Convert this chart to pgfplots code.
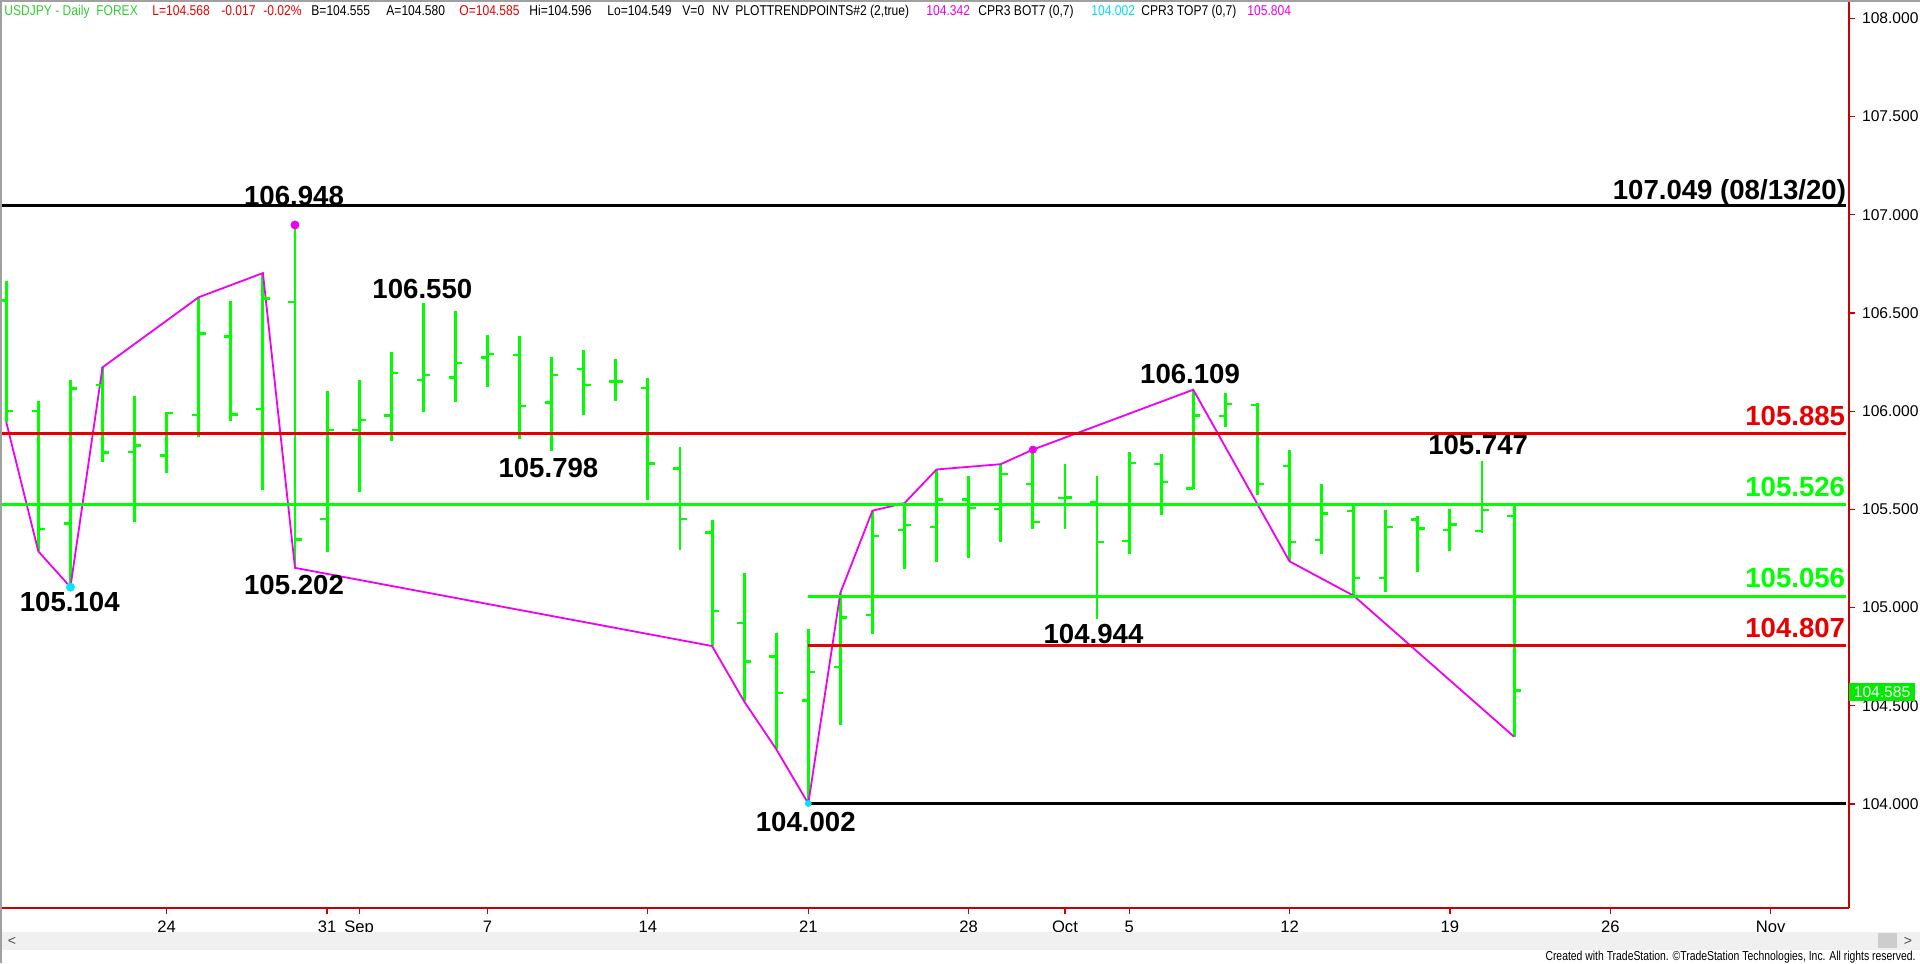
\documentclass[border=0pt]{standalone}
\usepackage{fontspec}
\setmainfont{Liberation Sans}
\usepackage{graphicx}
\usepackage{pgfplots}
\usepackage{pgfplotstable}
\pgfplotsset{compat=1.18}

\definecolor{tsgreen}{RGB}{0,255,0}
\definecolor{tsred}{RGB}{232,0,0}
\definecolor{tsaxis}{RGB}{205,0,0}
\definecolor{tsmag}{RGB}{240,0,240}
\definecolor{tscyan}{RGB}{0,230,255}
\definecolor{hdgreen}{RGB}{50,205,50}
\definecolor{hdred}{RGB}{230,0,0}
\definecolor{hdmag}{RGB}{230,0,230}
\definecolor{hdcyan}{RGB}{0,220,240}
\definecolor{tsgray}{RGB}{240,240,240}
\definecolor{tsthumb}{RGB}{205,205,205}
\definecolor{tsborder}{RGB}{160,160,160}

\pgfdeclareplotmark{otick}{\pgfpathmoveto{\pgfqpoint{-3.4pt}{0pt}}\pgfpathlineto{\pgfqpoint{0pt}{0pt}}\pgfusepathqstroke}
\pgfdeclareplotmark{ctick}{\pgfpathmoveto{\pgfqpoint{0pt}{0pt}}\pgfpathlineto{\pgfqpoint{3.4pt}{0pt}}\pgfusepathqstroke}

% trading-day index i: 0 = Aug 17, 2020
\pgfplotstableread{
i o h l c
0 106.563 106.661 105.944 106.000
1 106.000 106.054 105.286 105.399
2 105.428 106.158 105.104 106.116
3 106.133 106.223 105.742 105.789
4 105.792 106.076 105.438 105.826
5 105.774 105.998 105.686 105.991
6 105.981 106.580 105.868 106.396
7 106.381 106.563 105.948 105.983
8 106.012 106.703 105.598 106.573
9 106.556 106.948 105.202 105.346
10 105.450 106.101 105.281 105.905
11 105.905 106.158 105.590 105.956
12 105.978 106.303 105.846 106.194
13 106.158 106.550 105.995 106.184
14 106.172 106.511 106.049 106.245
15 106.273 106.390 106.123 106.290
16 106.285 106.383 105.860 106.025
17 106.045 106.278 105.798 106.184
18 106.214 106.309 105.978 106.133
19 106.150 106.265 106.054 106.150
20 106.118 106.167 105.545 105.733
21 105.708 105.818 105.295 105.450
22 105.382 105.444 104.804 104.982
23 104.920 105.176 104.522 104.726
24 104.751 104.872 104.279 104.565
25 104.526 104.889 104.002 104.672
26 104.697 105.075 104.400 104.949
27 104.963 105.493 104.866 105.363
28 105.396 105.532 105.196 105.421
29 105.409 105.703 105.231 105.551
30 105.551 105.671 105.254 105.506
31 105.503 105.730 105.336 105.681
32 105.629 105.804 105.400 105.435
33 105.557 105.732 105.400 105.561
34 105.537 105.670 104.944 105.334
35 105.338 105.794 105.275 105.735
36 105.730 105.784 105.470 105.638
37 105.607 106.109 105.603 105.978
38 105.974 106.090 105.918 106.036
39 106.031 106.040 105.574 105.629
40 105.722 105.800 105.235 105.334
41 105.343 105.629 105.273 105.479
42 105.493 105.516 105.060 105.149
43 105.149 105.497 105.079 105.411
44 105.448 105.464 105.182 105.402
45 105.394 105.504 105.289 105.423
46 105.391 105.747 105.382 105.497
47 105.465 105.521 104.342 104.578
}\ohlc

\pgfplotstableread{
i v
0 105.944
1 105.286
2 105.104
3 106.223
6 106.580
8 106.703
9 105.202
22 104.804
23 104.522
24 104.279
25 104.002
26 105.075
27 105.493
28 105.532
29 105.703
31 105.730
32 105.804
37 106.109
40 105.235
42 105.060
47 104.342
}\zigzag

\begin{document}
\begin{tikzpicture}
\path[use as bounding box] (0pt,0pt) rectangle (960pt,-481.5pt);
\fill[white] (0pt,0pt) rectangle (960pt,-481.5pt);
\begin{axis}[
  at={(0pt,0pt)}, anchor=north west,
  scale only axis, width=924.5pt, height=454pt,
  xmin=-0.195, xmax=57.44, ymin=103.47, ymax=108.0935,
  axis x line*=bottom, axis y line*=right,
  axis line style={tsaxis, line width=0.6pt, -},
  tick align=outside, major tick length=3pt,
  tick style={tsaxis, line width=0.6pt},
  xtick={5,10,11,15,20,25,30,33,35,40,45,50,55},
  xticklabels={24,31,Sep,7,14,21,28,Oct,5,12,19,26,Nov},
  ytick={104,104.5,105,105.5,106,106.5,107,107.5,108},
  yticklabels={104.000,104.500,105.000,105.500,106.000,106.500,107.000,107.500,108.000},
  xticklabel style={font=\fontsize{8.3}{9}\selectfont, text=black},
  yticklabel style={font=\fontsize{7.8}{9}\selectfont, text=black},
  clip=false,
]
% high-low
\addplot[draw=none, mark=none, forget plot,
  error bars/.cd, y dir=minus, y explicit, error mark=none,
  error bar style={tsgreen, line width=1.45pt}]
  table[x=i, y=h, y error minus expr=\thisrow{h}-\thisrow{l}] {\ohlc};
% open / close ticks
\addplot[only marks, mark=otick, mark options={tsgreen, line width=1.2pt}] table[x=i, y=o] {\ohlc};
\addplot[only marks, mark=ctick, mark options={tsgreen, line width=1.2pt}] table[x=i, y=c] {\ohlc};
% zigzag trend points
\addplot[tsmag, line width=0.9pt] table[x=i, y=v] {\zigzag};
% levels
\addplot[black, line width=1.5pt] coordinates {(-0.195,107.049) (57.36,107.049)};
\addplot[tsred, line width=1.6pt] coordinates {(-0.195,105.885) (57.36,105.885)};
\addplot[tsgreen, line width=1.6pt] coordinates {(-0.195,105.526) (57.36,105.526)};
\addplot[tsgreen, line width=1.6pt] coordinates {(25,105.056) (57.36,105.056)};
\addplot[tsred, line width=1.6pt] coordinates {(25,104.807) (57.36,104.807)};
\addplot[black, line width=1.5pt] coordinates {(25,104.002) (57.36,104.002)};
% swing dots
\addplot[only marks, mark=*, mark size=2pt, tsmag] coordinates {(9,106.948)};
\addplot[only marks, mark=*, mark size=1.8pt, tsmag] coordinates {(32,105.804)};
\addplot[only marks, mark=*, mark size=2pt, tscyan] coordinates {(2,105.104)};
\addplot[only marks, mark=*, mark size=1.5pt, tscyan] coordinates {(25,104.002)};
% labels
\tikzset{lab/.style={font=\bfseries\fontsize{13.8}{14}\selectfont, inner sep=0pt}}
\node[lab] at (axis cs:8.97,107.097) {106.948};
\node[lab] at (axis cs:12.97,106.623) {106.550};
\node[lab] at (axis cs:16.9,105.713) {105.798};
\node[lab] at (axis cs:1.98,105.027) {105.104};
\node[lab] at (axis cs:8.97,105.115) {105.202};
\node[lab] at (axis cs:24.92,103.906) {104.002};
\node[lab] at (axis cs:33.89,104.866) {104.944};
\node[lab] at (axis cs:36.9,106.187) {106.109};
\node[lab] at (axis cs:45.88,105.826) {105.747};
\node[lab, anchor=east] at (axis cs:57.36,107.115) {107.049 (08/13/20)};
\node[lab, anchor=east, text=tsred] at (axis cs:57.33,105.975) {105.885};
\node[lab, anchor=east, text=tsgreen] at (axis cs:57.33,105.614) {105.526};
\node[lab, anchor=east, text=tsgreen] at (axis cs:57.33,105.152) {105.056};
\node[lab, anchor=east, text=tsred] at (axis cs:57.33,104.898) {104.807};
\end{axis}
\begin{scope}[x=0.5pt, y=-0.5pt]
  % price tag
  \fill[tsgreen!92!black] (1849,683) rectangle (1915,700.6);
  \node[text=white, font=\fontsize{7.8}{9}\selectfont, inner sep=0pt] at (1882,692) {104.585};
  % header
  \tikzset{hd/.style={anchor=base west, inner sep=0pt, font=\fontsize{7.1}{8}\selectfont}}
  \newcommand\hs[1]{\scalebox{0.85}[1]{#1}}
  \node[hd, text=hdgreen] at (4,16) {\hs{USDJPY - Daily\ \ FOREX}};
  \node[hd, text=hdred] at (152,16) {\hs{L=104.568}};
  \node[hd, text=hdred] at (221,16) {\hs{-0.017}};
  \node[hd, text=hdred] at (263,16) {\hs{-0.02\%}};
  \node[hd] at (311,16) {\hs{B=104.555}};
  \node[hd] at (386,16) {\hs{A=104.580}};
  \node[hd, text=hdred] at (459,16) {\hs{O=104.585}};
  \node[hd] at (529,16) {\hs{Hi=104.596}};
  \node[hd] at (607,16) {\hs{Lo=104.549}};
  \node[hd] at (682,16) {\hs{V=0}};
  \node[hd] at (712,16) {\hs{NV}};
  \node[hd] at (735,16) {\hs{PLOTTRENDPOINTS\#2 (2,true)}};
  \node[hd, text=hdmag] at (926,16) {\hs{104.342}};
  \node[hd] at (978,16) {\hs{CPR3 BOT7 (0,7)}};
  \node[hd, text=hdcyan] at (1091,16) {\hs{104.002}};
  \node[hd] at (1141,16) {\hs{CPR3 TOP7 (0,7)}};
  \node[hd, text=hdmag] at (1247,16) {\hs{105.804}};
  % scrollbar
  \fill[tsgray] (0,932) rectangle (1920,950);
  \fill[tsthumb] (1878,933) rectangle (1897,948);
  \node[font=\fontsize{7}{8}\selectfont, text=black!70] at (12,941) {\textless};
  \node[font=\fontsize{7}{8}\selectfont, text=black!70] at (1908,941) {\textgreater};
  % footer
  \node[anchor=east, inner sep=0pt, font=\fontsize{6.5}{7}\selectfont] at (1916,957)
    {\scalebox{0.8}[1]{Created with TradeStation. \textcopyright TradeStation Technologies, Inc. All rights reserved.}};
  % window border
  \draw[tsborder, line width=1pt] (1,963) -- (1,1) -- (1920,1);
\end{scope}
\end{tikzpicture}
\end{document}
